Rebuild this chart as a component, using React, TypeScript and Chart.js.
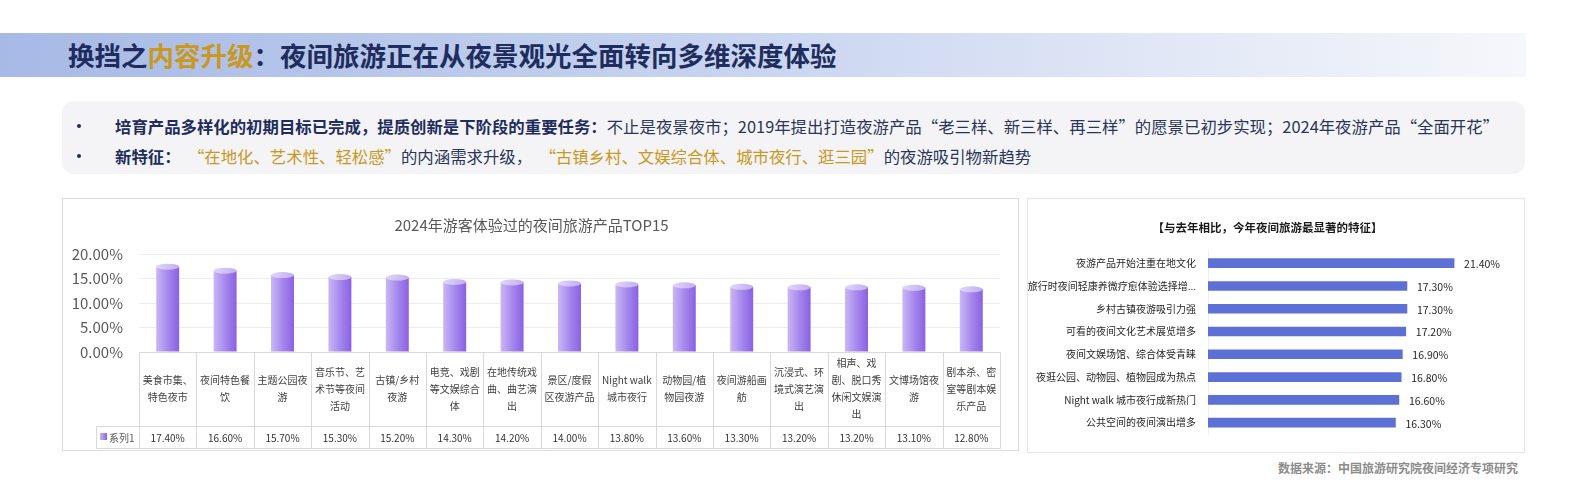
import { useEffect, useRef } from 'react';
import { Chart, registerables } from 'chart.js';

Chart.register(...registerables);

const FONT = '"Noto Sans CJK SC", "Noto Sans", sans-serif';
Chart.defaults.font.family = FONT;

// 左图：2024年游客体验过的夜间旅游产品TOP15
const productLabels: string[][] = [
  ['美食市集、', '特色夜市'],
  ['夜间特色餐', '饮'],
  ['主题公园夜', '游'],
  ['音乐节、艺', '术节等夜间', '活动'],
  ['古镇/乡村', '夜游'],
  ['电竞、戏剧', '等文娱综合', '体'],
  ['在地传统戏', '曲、曲艺演', '出'],
  ['景区/度假', '区夜游产品'],
  ['Night walk', '城市夜行'],
  ['动物园/植', '物园夜游'],
  ['夜间游船画', '舫'],
  ['沉浸式、环', '境式演艺演', '出'],
  ['相声、戏', '剧、脱口秀', '休闲文娱演', '出'],
  ['文博场馆夜', '游'],
  ['剧本杀、密', '室等剧本娱', '乐产品'],
];
const productValues = [17.4, 16.6, 15.7, 15.3, 15.2, 14.3, 14.2, 14.0, 13.8, 13.6, 13.3, 13.2, 13.2, 13.1, 12.8];
const seriesName = '系列1';
const productTicks = [0, 5, 10, 15, 20];

// 右图：与去年相比，今年夜间旅游最显著的特征
const featureLabels = [
  '夜游产品开始注重在地文化',
  '旅行时夜间轻康养微疗愈体验选择增...',
  '乡村古镇夜游吸引力强',
  '可看的夜间文化艺术展览增多',
  '夜间文娱场馆、综合体受青睐',
  '夜逛公园、动物园、植物园成为热点',
  'Night walk 城市夜行成新热门',
  '公共空间的夜间演出增多',
];
const featureValues = [21.4, 17.3, 17.3, 17.2, 16.9, 16.8, 16.6, 16.3];

const pct = (v: number) => `${v.toFixed(2)}%`;

// 柱顶椭圆，做成圆柱效果
const cylinderCaps = {
  id: 'cylinderCaps',
  afterDatasetsDraw(chart: any) {
    const { ctx } = chart;
    ctx.save();
    chart.getDatasetMeta(0).data.forEach((bar: any) => {
      const { x, y, width } = bar.getProps(['x', 'y', 'width'], true);
      const g = ctx.createLinearGradient(x - width / 2, 0, x + width / 2, 0);
      g.addColorStop(0, '#e0d6fa');
      g.addColorStop(1, '#c2adf3');
      ctx.beginPath();
      ctx.ellipse(x, y, width / 2, 3, 0, 0, Math.PI * 2);
      ctx.fillStyle = g;
      ctx.fill();
    });
    ctx.restore();
  },
};

// 图表下方的数据表
const dataTable = {
  id: 'dataTable',
  afterDraw(chart: any) {
    const { ctx, chartArea } = chart;
    const xs = chart.scales.x;
    const n = productLabels.length;
    const colW = (chartArea.right - chartArea.left) / n;
    const top = chartArea.bottom;
    const rowA = 74;
    const rowB = 22;
    const legendLeft = chartArea.left - 43;
    const bottom = top + rowA + rowB;

    ctx.save();
    ctx.strokeStyle = '#d9d9d9';
    ctx.lineWidth = 1;
    const line = (x1: number, y1: number, x2: number, y2: number) => {
      ctx.beginPath();
      ctx.moveTo(Math.round(x1) + 0.5, Math.round(y1) + 0.5);
      ctx.lineTo(Math.round(x2) + 0.5, Math.round(y2) + 0.5);
      ctx.stroke();
    };
    line(chartArea.left, top, chartArea.right, top);
    line(legendLeft, top + rowA, chartArea.right, top + rowA);
    line(legendLeft, bottom, chartArea.right, bottom);
    line(legendLeft, top + rowA, legendLeft, bottom);
    for (let i = 0; i <= n; i++) {
      const x = i < n ? xs.getPixelForValue(i) - colW / 2 : chartArea.right;
      line(x, top, x, bottom);
    }

    ctx.textAlign = 'center';
    ctx.textBaseline = 'middle';
    productLabels.forEach((lines, i) => {
      const cx = xs.getPixelForValue(i);
      ctx.font = `10px ${FONT}`;
      ctx.fillStyle = '#404040';
      const lh = 17;
      const y0 = top + rowA / 2 - ((lines.length - 1) * lh) / 2;
      lines.forEach((t, k) => ctx.fillText(t, cx, y0 + k * lh));
      ctx.fillStyle = '#333333';
      ctx.fillText(pct(productValues[i]), cx, top + rowA + rowB / 2 + 1);
    });

    // 图例单元格
    const g = ctx.createLinearGradient(legendLeft + 4, 0, legendLeft + 11, 0);
    g.addColorStop(0, '#c6b3f4');
    g.addColorStop(1, '#8d66e3');
    ctx.fillStyle = g;
    ctx.fillRect(legendLeft + 4, top + rowA + rowB / 2 - 4, 7, 7);
    ctx.textAlign = 'left';
    ctx.fillStyle = '#595959';
    ctx.fillText(seriesName, legendLeft + 13, top + rowA + rowB / 2 + 1);
    ctx.restore();
  },
};

// 横条数值标签
const barValueLabels = {
  id: 'barValueLabels',
  afterDatasetsDraw(chart: any) {
    const { ctx } = chart;
    ctx.save();
    ctx.font = `10.5px ${FONT}`;
    ctx.fillStyle = '#262626';
    ctx.textAlign = 'left';
    ctx.textBaseline = 'middle';
    chart.getDatasetMeta(0).data.forEach((bar: any, i: number) => {
      const { x, y } = bar.getProps(['x', 'y'], true);
      ctx.fillText(pct(featureValues[i]), x + 10, y + 1);
    });
    ctx.restore();
  },
};

function ProductChart() {
  const canvasRef = useRef<HTMLCanvasElement>(null);

  useEffect(() => {
    if (!canvasRef.current) return;
    const chart = new Chart(canvasRef.current, {
      type: 'bar',
      data: {
        labels: productLabels.map((l) => l.join('')),
        datasets: [
          {
            label: seriesName,
            data: productValues,
            categoryPercentage: 1,
            barPercentage: 0.4,
            backgroundColor: (c: any) => {
              const ch = c.chart;
              const xs = ch.scales?.x;
              if (!xs || c.type !== 'data') return '#a486ea';
              const cx = xs.getPixelForValue(c.dataIndex);
              const w = (xs.width / productLabels.length) * 0.4;
              if (!isFinite(cx) || !isFinite(w) || w <= 0) return '#a486ea';
              const g = ch.ctx.createLinearGradient(cx - w / 2, 0, cx + w / 2, 0);
              g.addColorStop(0, '#c9b7f4');
              g.addColorStop(0.55, '#a384ec');
              g.addColorStop(1, '#8a61e2');
              return g;
            },
          },
        ],
      },
      options: {
        responsive: true,
        maintainAspectRatio: false,
        animation: false,
        layout: { padding: { left: 0, right: 18, top: 0, bottom: 98 } },
        plugins: {
          legend: { display: false },
          tooltip: { enabled: false },
          title: {
            display: true,
            text: '2024年游客体验过的夜间旅游产品TOP15',
            color: '#595959',
            font: { size: 15, weight: 'normal', family: FONT },
            padding: { top: 17, bottom: 20 },
          },
        },
        scales: {
          x: { display: false, offset: true },
          y: {
            min: 0,
            max: 20,
            afterBuildTicks: (s: any) => {
              s.ticks = productTicks.map((v) => ({ value: v }));
            },
            afterFit: (s: any) => {
              s.width = 76;
            },
            border: { display: false },
            grid: { color: '#ededed', lineWidth: 1, drawTicks: false },
            ticks: {
              color: '#595959',
              padding: 16,
              font: { size: 15, family: FONT },
              callback: (v: any) => pct(Number(v)),
            },
          },
        },
      },
      plugins: [cylinderCaps, dataTable],
    });
    return () => chart.destroy();
  }, []);

  return <canvas ref={canvasRef} />;
}

function FeatureChart() {
  const canvasRef = useRef<HTMLCanvasElement>(null);

  useEffect(() => {
    if (!canvasRef.current) return;
    const chart = new Chart(canvasRef.current, {
      type: 'bar',
      data: {
        labels: featureLabels,
        datasets: [
          {
            data: featureValues,
            backgroundColor: '#5d70d6',
            barThickness: 9,
          },
        ],
      },
      options: {
        indexAxis: 'y',
        responsive: true,
        maintainAspectRatio: false,
        animation: false,
        layout: { padding: { left: 0, right: 17, top: 0, bottom: 16 } },
        plugins: {
          legend: { display: false },
          tooltip: { enabled: false },
          title: {
            display: true,
            text: '【与去年相比，今年夜间旅游最显著的特征】',
            color: '#1a1a1a',
            font: { size: 11.5, weight: 'bold', family: FONT },
            padding: { top: 22, bottom: 17 },
          },
        },
        scales: {
          x: { display: false, min: 0, max: 26 },
          y: {
            afterFit: (s: any) => {
              s.width = 180;
            },
            border: { display: true, color: '#eeeeee' },
            grid: { display: false, drawTicks: false },
            ticks: {
              color: '#262626',
              padding: 12,
              font: { size: 10, family: FONT },
            },
          },
        },
      },
      plugins: [barValueLabels],
    });
    return () => chart.destroy();
  }, []);

  return <canvas ref={canvasRef} />;
}

export default function App() {
  const navy = '#1f2d5e';
  const gold = '#c8981f';
  const body = '#2a3659';

  return (
    <div
      style={{
        position: 'absolute',
        left: 0,
        top: 0,
        width: 1587,
        height: 485,
        overflow: 'hidden',
        background: '#ffffff',
        fontFamily: FONT,
      }}
    >
      {/* 标题栏 */}
      <div
        style={{
          position: 'absolute',
          left: 0,
          top: 33,
          width: 1526,
          height: 44,
          background: 'linear-gradient(90deg, #a7b9e5 0%, #c5d2ef 45%, #f6f7fb 100%)',
        }}
      >
        <div
          style={{
            position: 'absolute',
            left: 68,
            top: 0,
            lineHeight: '44px',
            fontSize: 26.5,
            fontWeight: 700,
            color: navy,
            whiteSpace: 'nowrap',
          }}
        >
          换挡之<span style={{ color: gold }}>内容升级</span>：夜间旅游正在从夜景观光全面转向多维深度体验
        </div>
      </div>

      {/* 要点 */}
      <div
        style={{
          position: 'absolute',
          left: 62,
          top: 101,
          width: 1463,
          height: 73,
          borderRadius: 12,
          background: '#f4f4f6',
        }}
      />
      {[126, 156].map((y) => (
        <div
          key={y}
          style={{ position: 'absolute', left: 77, top: y - 2, width: 4, height: 4, borderRadius: 2, background: navy }}
        />
      ))}
      <div
        style={{
          position: 'absolute',
          left: 115,
          top: 115,
          lineHeight: '22px',
          fontSize: 16.4,
          color: body,
          whiteSpace: 'nowrap',
        }}
      >
        <b style={{ color: navy }}>培育产品多样化的初期目标已完成，提质创新是下阶段的重要任务：</b>
        不止是夜景夜市；2019年提出打造夜游产品“老三样、新三样、再三样”的愿景已初步实现；2024年夜游产品“全面开花”
      </div>
      <div
        style={{
          position: 'absolute',
          left: 115,
          top: 145,
          lineHeight: '22px',
          fontSize: 16.4,
          color: body,
          whiteSpace: 'nowrap',
        }}
      >
        <b style={{ color: navy }}>新特征：</b>
        <span style={{ color: gold }}>&nbsp;&nbsp;“在地化、艺术性、轻松感”</span>的内涵需求升级，
        <span style={{ color: gold }}>&nbsp;&nbsp;“古镇乡村、文娱综合体、城市夜行、逛三园”</span>的夜游吸引物新趋势
      </div>

      {/* 左图 */}
      <div
        style={{
          position: 'absolute',
          left: 62,
          top: 198,
          width: 957,
          height: 253,
          boxSizing: 'border-box',
          border: '1px solid #dcdcdc',
        }}
      >
        <div style={{ position: 'relative', width: '100%', height: '100%' }}>
          <ProductChart />
        </div>
      </div>

      {/* 右图 */}
      <div
        style={{
          position: 'absolute',
          left: 1027,
          top: 198,
          width: 498,
          height: 255,
          boxSizing: 'border-box',
          border: '1px solid #e8e8e8',
          boxShadow: '0 0 2px rgba(0,0,0,0.06)',
        }}
      >
        <div style={{ position: 'relative', width: '100%', height: '100%' }}>
          <FeatureChart />
        </div>
      </div>

      <div
        style={{
          position: 'absolute',
          right: 69,
          top: 459,
          fontSize: 12,
          fontWeight: 700,
          color: '#8c8c8c',
          whiteSpace: 'nowrap',
        }}
      >
        数据来源：中国旅游研究院夜间经济专项研究
      </div>
    </div>
  );
}
